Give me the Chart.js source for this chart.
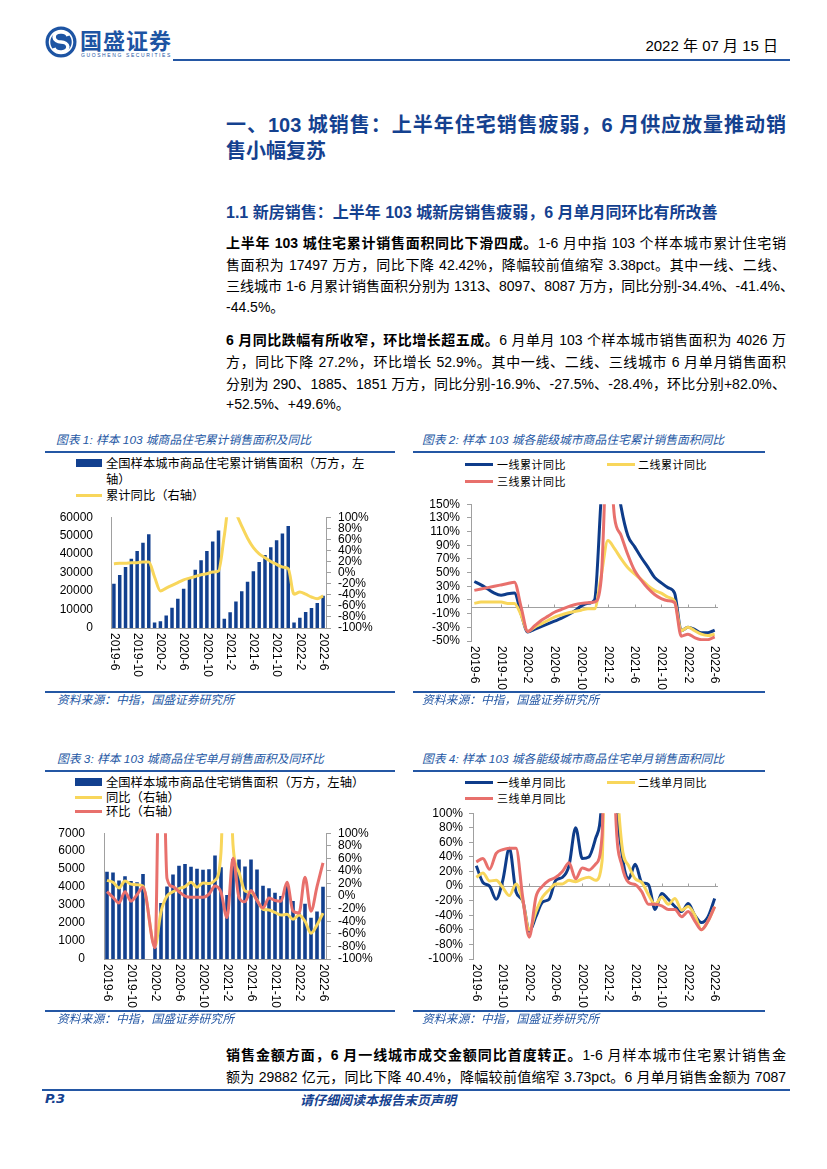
<!DOCTYPE html>
<html>
<head>
<meta charset="utf-8">
<script src="https://cdn.jsdelivr.net/npm/chart.js@4.4.0/dist/chart.umd.min.js"></script>
<style>
  body { margin: 0; background: #fff; }
  #page { position: relative; width: 827px; height: 1169px; overflow: hidden;
          font-family: "Liberation Sans", "Noto Sans CJK SC", sans-serif; color: #000; }
  .ln { position: absolute; left: 226px; width: 560px; font-size: 14px; line-height: 20px;
        white-space: nowrap; text-align: justify; text-align-last: justify; }
  .ln.last { text-align-last: left; }
  .hr { position: absolute; height: 2px; background: #2457a4; }
  .ctitle { position: absolute; font-size: 11.8px; line-height: 14px; font-style: italic; color: #2457a4; white-space: nowrap; }
  .leg { position: absolute; line-height: 16px; white-space: nowrap; font-family: "Noto Sans CJK SC", sans-serif; }
  .sw { position: absolute; }
  canvas { position: absolute; }
</style>
</head>
<body>
<div id="page">

  <!-- header -->
  <svg class="sw" style="left:44px;top:25px" width="34" height="34" viewBox="0 0 34 34">
    <circle cx="17" cy="17" r="15.5" fill="#1d54a3"/>
    <circle cx="17" cy="17" r="11.5" fill="none" stroke="#fff" stroke-width="1.5"/>
    <path d="M24 11 A7 5 0 1 0 17 17 A7 5 0 1 1 10 23" fill="none" stroke="#fff" stroke-width="3.5"/>
  </svg>
  <div class="sw" style="left:80px;top:25px;font:bold 22px 'Noto Sans CJK SC';color:#1d54a3;letter-spacing:1px;line-height:28px">国盛证券</div>
  <div class="sw" style="left:81px;top:52px;font:5px 'Liberation Sans';color:#1d54a3;letter-spacing:1.6px;line-height:6px">GUOSHENG SECURITIES</div>
  <div class="sw" style="right:49px;top:36px;font:15px 'Liberation Sans Narrow','Liberation Sans','Noto Sans CJK SC';line-height:20px">2022 年 07 月 15 日</div>
  <div class="hr" style="left:173px;top:59px;width:617px"></div>

  <!-- headings -->
  <div class="ln" style="top:112px;font-size:20px;line-height:26px;font-weight:bold;color:#14418f">一、103 城销售：上半年住宅销售疲弱，6 月供应放量推动销</div>
  <div class="ln last" style="top:138px;font-size:20px;line-height:26px;font-weight:bold;color:#14418f">售小幅复苏</div>
  <div class="ln last" style="top:202px;font-size:16px;line-height:22px;font-weight:bold;color:#14418f">1.1 新房销售：上半年 103 城新房销售疲弱，6 月单月同环比有所改善</div>

  <!-- paragraph 1 -->
  <div class="ln" style="top:233px"><b>上半年 103 城住宅累计销售面积同比下滑四成。</b>1-6 月中指 103 个样本城市累计住宅销</div>
  <div class="ln" style="top:255px">售面积为 17497 万方，同比下降 42.42%，降幅较前值缩窄 3.38pct。其中一线、二线、</div>
  <div class="ln" style="top:276px">三线城市 1-6 月累计销售面积分别为 1313、8097、8087 万方，同比分别-34.4%、-41.4%、</div>
  <div class="ln last" style="top:297px">-44.5%。</div>

  <!-- paragraph 2 -->
  <div class="ln" style="top:330px"><b>6 月同比跌幅有所收窄，环比增长超五成。</b>6 月单月 103 个样本城市销售面积为 4026 万</div>
  <div class="ln" style="top:352px">方，同比下降 27.2%，环比增长 52.9%。其中一线、二线、三线城市 6 月单月销售面积</div>
  <div class="ln" style="top:374px">分别为 290、1885、1851 万方，同比分别-16.9%、-27.5%、-28.4%，环比分别+82.0%、</div>
  <div class="ln last" style="top:394px">+52.5%、+49.6%。</div>

  <!-- chart 1 frame -->
  <div class="ctitle" style="left:56px;top:433px">图表 1:  样本  103 城商品住宅累计销售面积及同比</div>
  <div class="hr" style="left:45px;top:451px;width:350px"></div>
  <div class="sw" style="left:76px;top:459px;width:26px;height:8px;background:#12408f"></div>
  <div class="leg" style="left:106px;top:455px;font-size:12.3px">全国样本城市商品住宅累计销售面积（万方，左<br>轴）</div>
  <div class="sw" style="left:76px;top:494px;width:26px;height:3px;background:#f8d65b"></div>
  <div class="leg" style="left:106px;top:487px;font-size:12.3px">累计同比（右轴）</div>
  <canvas id="c1" width="356" height="190" style="left:42px;top:500px"></canvas>
  <div class="hr" style="left:45px;top:691px;width:350px"></div>
  <div class="ctitle" style="left:57px;top:693px">资料来源：中指，国盛证券研究所</div>

  <!-- chart 2 frame -->
  <div class="ctitle" style="left:422px;top:433px">图表 2:  样本  103 城各能级城市商品住宅累计销售面积同比</div>
  <div class="hr" style="left:413px;top:451px;width:352px"></div>
  <div class="sw" style="left:465px;top:463px;width:28px;height:3px;background:#0e3c8a"></div>
  <div class="leg" style="left:497px;top:456px;font-size:11px;letter-spacing:0.5px">一线累计同比</div>
  <div class="sw" style="left:607px;top:463px;width:28px;height:3px;background:#f8d65b"></div>
  <div class="leg" style="left:638px;top:456px;font-size:11px;letter-spacing:0.5px">二线累计同比</div>
  <div class="sw" style="left:465px;top:480px;width:28px;height:3px;background:#e8706c"></div>
  <div class="leg" style="left:497px;top:473px;font-size:11px;letter-spacing:0.5px">三线累计同比</div>
  <canvas id="c2" width="352" height="205" style="left:413px;top:490px"></canvas>
  <div class="hr" style="left:413px;top:691px;width:352px"></div>
  <div class="ctitle" style="left:422px;top:693px">资料来源：中指，国盛证券研究所</div>

  <!-- chart 3 frame -->
  <div class="ctitle" style="left:57px;top:752px">图表 3:  样本  103 城商品住宅单月销售面积及同环比</div>
  <div class="hr" style="left:45px;top:770px;width:350px"></div>
  <div class="sw" style="left:75px;top:778px;width:27px;height:8px;background:#12408f"></div>
  <div class="leg" style="left:106px;top:774px;font-size:12.3px">全国样本城市商品住宅销售面积（万方，左轴）</div>
  <div class="sw" style="left:75px;top:796px;width:27px;height:3px;background:#f8d65b"></div>
  <div class="leg" style="left:106px;top:789px;font-size:12.3px">同比（右轴）</div>
  <div class="sw" style="left:75px;top:810px;width:27px;height:3px;background:#e8706c"></div>
  <div class="leg" style="left:106px;top:803px;font-size:12.3px">环比（右轴）</div>
  <canvas id="c3" width="356" height="200" style="left:42px;top:815px"></canvas>
  <div class="hr" style="left:45px;top:1010px;width:350px"></div>
  <div class="ctitle" style="left:57px;top:1012px">资料来源：中指，国盛证券研究所</div>

  <!-- chart 4 frame -->
  <div class="ctitle" style="left:422px;top:752px">图表 4:  样本  103 城各能级城市商品住宅单月销售面积同比</div>
  <div class="hr" style="left:413px;top:770px;width:352px"></div>
  <div class="sw" style="left:465px;top:781px;width:28px;height:3px;background:#0e3c8a"></div>
  <div class="leg" style="left:497px;top:774px;font-size:11px;letter-spacing:0.5px">一线单月同比</div>
  <div class="sw" style="left:607px;top:781px;width:28px;height:3px;background:#f8d65b"></div>
  <div class="leg" style="left:638px;top:774px;font-size:11px;letter-spacing:0.5px">二线单月同比</div>
  <div class="sw" style="left:465px;top:797px;width:28px;height:3px;background:#e8706c"></div>
  <div class="leg" style="left:497px;top:790px;font-size:11px;letter-spacing:0.5px">三线单月同比</div>
  <canvas id="c4" width="352" height="215" style="left:413px;top:800px"></canvas>
  <div class="hr" style="left:413px;top:1010px;width:352px"></div>
  <div class="ctitle" style="left:422px;top:1012px">资料来源：中指，国盛证券研究所</div>

  <!-- paragraph 3 -->
  <div class="ln" style="top:1045px"><b>销售金额方面，6 月一线城市成交金额同比首度转正。</b>1-6 月样本城市住宅累计销售金</div>
  <div class="ln" style="top:1067px">额为 29882 亿元，同比下降 40.4%，降幅较前值缩窄 3.73pct。6 月单月销售金额为 7087</div>

  <!-- footer -->
  <div class="hr" style="left:42px;top:1089px;width:748px"></div>
  <div class="sw" style="left:45px;top:1091px;font:italic bold 13px 'DejaVu Sans';color:#14418f;line-height:16px">P.3</div>
  <div class="sw" style="left:300px;top:1092px;font:italic bold 13px 'Noto Sans CJK SC';color:#14418f;line-height:16px">请仔细阅读本报告末页声明</div>
</div>

<script>
const months = ['2019-6', '2019-7', '2019-8', '2019-9', '2019-10', '2019-11', '2019-12',
  '2020-1', '2020-2', '2020-3', '2020-4', '2020-5', '2020-6', '2020-7', '2020-8', '2020-9', '2020-10', '2020-11', '2020-12',
  '2021-1', '2021-2', '2021-3', '2021-4', '2021-5', '2021-6', '2021-7', '2021-8', '2021-9', '2021-10', '2021-11', '2021-12',
  '2022-1', '2022-2', '2022-3', '2022-4', '2022-5', '2022-6'];

// chart 1: cumulative sales area (10k sqm) and cumulative YoY (%)
const cumArea = [23900, 28700, 33000, 37500, 41700, 46200, 50800, 3000, 3600, 6800, 11000, 15800, 21300, 26600, 31600, 36700, 41700, 46800, 52800,
  5000, 8500, 14300, 19900, 25100, 30700, 35700, 39500, 43700, 47500, 51200, 55300, 3000, 5500, 8600, 10800, 13600, 17497];
const cumYoY = [16, 17, 17, 18, 18, 19, 19, -8, -33, -28, -23, -18, -13, -10, -7, -4, -2, 1, 3,
  67, 136, 108, 84, 62, 45, 34, 27, 20, 15, 10, 7, -39, -35, -39, -44, -47, -42];

// chart 2: cumulative YoY by city tier (%)
const tier1Cum = [37, 32, 26, 20, 17, 19, 20, -10, -37, -33, -29, -25, -21, -17, -12, -6, 1, 5, 10,
  160, 300, 210, 145, 104, 88, 72, 58, 43, 35, 28, 20, -35, -30, -33, -38, -38, -34];
const tier2Cum = [5, 7, 7, 7, 7, 5, 5, -12, -36, -30, -25, -20, -15, -12, -9, -7, -5, -3, -3,
  45, 97, 85, 70, 57, 48, 40, 31, 24, 20, 14, 8, -35, -30, -35, -40, -42, -40];
const tier3Cum = [24, 26, 28, 30, 32, 34, 36, 0, -36, -28, -20, -14, -8, -4, 0, 3, 5, 6, 7,
  40, 250, 131, 104, 76, 53, 39, 27, 18, 12, 9, 6, -43, -40, -45, -48, -48, -44];

// chart 3: monthly sales area (10k sqm), YoY and MoM (%)
const monthArea = [4850, 4810, 4370, 4600, 4340, 4270, 4730, null, 640, 3120, 4030, 4700, 5190, 5280, 5140, 5020, 4970, 5000, 5760,
  5100, 3560, 5560, 5540, 5150, 5540, 4980, 4070, 3940, 3680, 3500, 4100, 3230, 2550, 3070, 2290, 2640, 4026];
const monthYoY = [25, 22, 13, 24, 19, 18, 16, null, -80, -25, 0, 7, 12, 15, 22, 14, 21, 20, 25,
  70, 400, 82, 38, 8, 6, -6, -21, -22, -26, -30, -29, -37, -30, -40, -59, -46, -27];
const monthMoM = [7, -2, -11, 7, -8, 2, 14, null, -82, 400, 28, 15, 7, 0, -2, -2, -2, 3, 16,
  6, -34, 60, -2, -9, 9, -7, -19, -3, -7, -8, 22, -24, -27, 30, -24, 15, 53];

// chart 4: single-month YoY by city tier (%)
const tier1Month = [28, 5, 0, -18, 8, 52, -8, -20, -62, -42, -22, -18, 8, 12, 28, 80, 38, 40, 65,
  130, 600, 160, 45, 10, 30, 5, 2, -32, -10, -18, -28, -35, -24, -40, -50, -42, -17];
const tier2Month = [12, 18, 7, 8, -2, -13, 3, -20, -60, -35, -15, -5, 3, 3, 8, 6, 10, 12, 8,
  35, 600, 200, 55, 28, 10, 5, -12, -25, -15, -25, -17, -33, -28, -40, -60, -48, -28];
const tier3Month = [33, 38, 23, 45, 50, 52, 52, -15, -70, -15, 0, 8, 12, 20, 32, 10, 25, 22, 30,
  70, 600, 110, 28, 5, 2, -8, -25, -25, -27, -32, -32, -42, -35, -48, -60, -48, -28];

const NAVY = '#0e3c8a', BAR = '#12408f', YELLOW = '#f8d65b', RED = '#e8706c', AXIS = '#a0a0a0';
const TICK_FONT = '12px "Liberation Sans", Arial, sans-serif';

Chart.defaults.font.family = '"Liberation Sans", Arial, sans-serif';
Chart.defaults.font.size = 12;
Chart.defaults.color = '#000';
Chart.defaults.animation = false;
Chart.defaults.plugins.legend.display = false;
Chart.defaults.plugins.tooltip.enabled = false;

// horizontal line at 0 with little tick marks, like the excel axis
const zeroLine = {
  id: 'zeroLine',
  beforeDatasetsDraw(chart) {
    const {ctx, chartArea, scales} = chart;
    const y = Math.round(scales.y.getPixelForValue(0)) + 0.5;
    ctx.save();
    ctx.strokeStyle = AXIS;
    ctx.lineWidth = 1;
    ctx.beginPath();
    ctx.moveTo(chartArea.left, y);
    ctx.lineTo(chartArea.right, y);
    for (let i = 4; i < months.length; i += 4) {
      const x = Math.round(scales.x.getPixelForValue(i)) + 0.5;
      ctx.moveTo(x, y - 3);
      ctx.lineTo(x, y);
    }
    ctx.stroke();
    ctx.restore();
  }
};

// month labels turned clockwise (read top to bottom), every 4th tick of the x scale
const downLabels = {
  id: 'downLabels',
  afterDraw(chart) {
    const xs = chart.scales.x, ctx = chart.ctx;
    ctx.save();
    ctx.font = TICK_FONT;
    ctx.fillStyle = '#000';
    ctx.textAlign = 'left';
    ctx.textBaseline = 'middle';
    xs.ticks.forEach((t, i) => {
      if (i % 4 !== 0) return;
      ctx.save();
      ctx.translate(xs.getPixelForTick(i), xs.top + 5);
      ctx.rotate(Math.PI / 2);
      ctx.fillText(months[t.value], 0, 0);
      ctx.restore();
    });
    ctx.restore();
  }
};

function lineSet(data, color, axis, order) {
  return {
    type: 'line', data: data, yAxisID: axis, order: order,
    borderColor: color, backgroundColor: color, borderWidth: 3,
    pointRadius: 0, cubicInterpolationMode: 'monotone', spanGaps: true
  };
}

function barSet(data) {
  return {
    type: 'bar', data: data, yAxisID: 'y', order: 9,
    backgroundColor: BAR, barPercentage: 0.6, categoryPercentage: 1
  };
}

function monthAxis(height, border) {
  return {
    offset: true,
    grid: {display: false},
    border: {display: border, color: AXIS},
    ticks: {display: false, autoSkip: false},
    afterFit: s => { s.height = height; }
  };
}

function pctAxis(pos, min, max, width, pad) {
  return {
    position: pos, min: min, max: max,
    grid: {drawOnChartArea: false, tickLength: pos === 'right' ? 5 : 4, color: AXIS},
    border: {color: AXIS},
    ticks: {stepSize: 20, autoSkip: false, padding: pad, callback: v => v + '%'},
    afterFit: s => { s.width = width; }
  };
}

function areaAxis(max, step, width, pad) {
  return {
    position: 'left', min: 0, max: max,
    grid: {display: false},
    border: {color: AXIS},
    ticks: {stepSize: step, autoSkip: false, padding: pad, callback: v => String(v)},
    afterFit: s => { s.width = width; }
  };
}

new Chart(document.getElementById('c1'), {
  data: {
    labels: months,
    datasets: [barSet(cumArea), lineSet(cumYoY, YELLOW, 'y1', 1)]
  },
  options: {
    responsive: false,
    layout: {padding: {top: 7}},
    scales: {
      x: monthAxis(62, true),
      y: areaAxis(60000, 10000, 69, 10),
      y1: pctAxis('right', -100, 100, 72, 7)
    }
  },
  plugins: [downLabels]
});

new Chart(document.getElementById('c2'), {
  type: 'line',
  data: {
    labels: months,
    datasets: [
      lineSet(tier1Cum, NAVY, 'y', 3),
      lineSet(tier2Cum, YELLOW, 'y', 2),
      lineSet(tier3Cum, RED, 'y', 1)
    ]
  },
  options: {
    responsive: false,
    layout: {padding: {top: 7, right: 47}},
    scales: {
      x: monthAxis(54, false),
      y: pctAxis('left', -50, 150, 58, 7)
    }
  },
  plugins: [zeroLine, downLabels]
});

new Chart(document.getElementById('c3'), {
  data: {
    labels: months,
    datasets: [
      barSet(monthArea),
      lineSet(monthYoY, YELLOW, 'y1', 2),
      lineSet(monthMoM, RED, 'y1', 1)
    ]
  },
  options: {
    responsive: false,
    layout: {padding: {top: 10}},
    scales: {
      x: monthAxis(56, true),
      y: areaAxis(7000, 1000, 62, 11),
      y1: pctAxis('right', -100, 100, 72, 7)
    }
  },
  plugins: [downLabels]
});

new Chart(document.getElementById('c4'), {
  type: 'line',
  data: {
    labels: months,
    datasets: [
      lineSet(tier1Month, NAVY, 'y', 3),
      lineSet(tier2Month, YELLOW, 'y', 2),
      lineSet(tier3Month, RED, 'y', 1)
    ]
  },
  options: {
    responsive: false,
    layout: {padding: {top: 8, right: 47}},
    scales: {
      x: monthAxis(56, false),
      y: pctAxis('left', -100, 100, 60, 6)
    }
  },
  plugins: [zeroLine, downLabels]
});
</script>
</body>
</html>
